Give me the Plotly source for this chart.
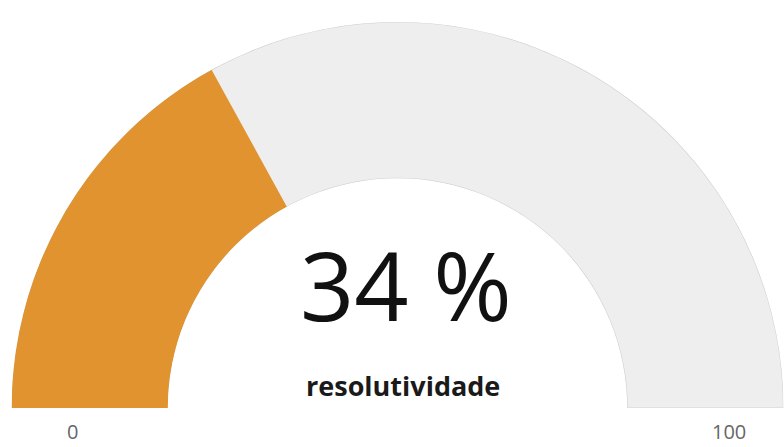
import plotly.graph_objects as go

# Gauge scale and reading
gauge_min = 0
gauge_max = 100
value = 34
unit = "%"
label = "resolutividade"

fill_color = "#E0932F"
track_color = "#EEEEEE"
track_line = "#D2D2D2"

# half-circle gauge: the scale spans 180 degrees of the angular axis
deg_per_unit = 180.0 / (gauge_max - gauge_min)


def arc(start, stop):
    a0 = (start - gauge_min) * deg_per_unit
    a1 = (stop - gauge_min) * deg_per_unit
    return (a0 + a1) / 2.0, a1 - a0


fig = go.Figure()

t, w = arc(gauge_min, gauge_max)
fig.add_trace(go.Barpolar(
    r=[1], theta=[t], width=[w],
    marker=dict(color=track_color, line=dict(color=track_line, width=1.2)),
    hoverinfo="skip", showlegend=False,
))

t, w = arc(gauge_min, value)
fig.add_trace(go.Barpolar(
    r=[1], theta=[t], width=[w],
    marker=dict(color=fill_color, line=dict(color=fill_color, width=0)),
    hoverinfo="skip", showlegend=False,
))

W, H = 784, 447
cx, cy, R = 397.5, 408, 386

fig.update_layout(
    width=W, height=H,
    margin=dict(l=0, r=0, t=0, b=0),
    paper_bgcolor="white",
    plot_bgcolor="white",
    showlegend=False,
    polar=dict(
        domain=dict(x=[(cx - R) / W, (cx + R) / W],
                    y=[(H - cy) / H, (H - cy + R) / H]),
        sector=[0, 180],
        hole=0.595,
        bgcolor="rgba(0,0,0,0)",
        radialaxis=dict(visible=False, range=[0, 1]),
        angularaxis=dict(visible=False, rotation=180, direction="clockwise",
                         showgrid=False, showline=False, ticks=""),
    ),
    annotations=[
        dict(text=f"{value} {unit}", x=406 / W, y=(H - 284) / H,
             xref="paper", yref="paper", xanchor="center", yanchor="middle",
             showarrow=False,
             font=dict(family="Open Sans", size=95, color="#111111", weight=500)),
        dict(text=f"<b>{label}</b>", x=403 / W, y=(H - 385) / H,
             xref="paper", yref="paper", xanchor="center", yanchor="middle",
             showarrow=False,
             font=dict(family="Open Sans", size=27, color="#1a1a1a")),
        dict(text=str(gauge_min), x=72 / W, y=(H - 431) / H,
             xref="paper", yref="paper", xanchor="center", yanchor="middle",
             showarrow=False,
             font=dict(family="Open Sans", size=20, color="#666666")),
        dict(text=str(gauge_max), x=729 / W, y=(H - 431) / H,
             xref="paper", yref="paper", xanchor="center", yanchor="middle",
             showarrow=False,
             font=dict(family="Open Sans", size=20, color="#666666")),
    ],
)

fig.write_html("out.html")
